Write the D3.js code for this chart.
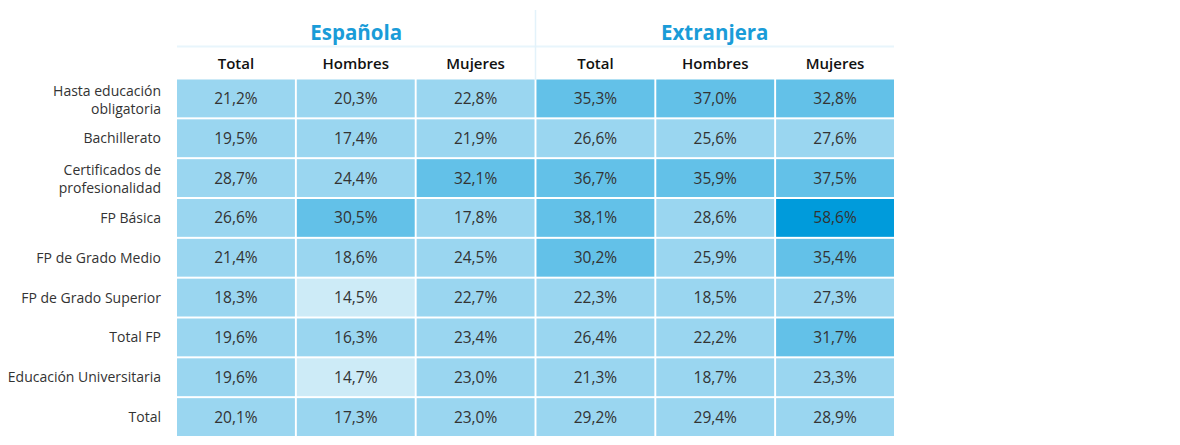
<!DOCTYPE html>
<html lang="es">
<head>
<meta charset="UTF-8">
<title>Tabla</title>
<script src="https://cdn.jsdelivr.net/npm/d3@7"></script>
<style>
  body { margin: 0; background: #fff; }
  text { font-family: "Open Sans", "Noto Sans", sans-serif; }
</style>
</head>
<body>
<script>
  const rows = ["Hasta educación obligatoria", "Bachillerato", "Certificados de profesionalidad",
    "FP Básica", "FP de Grado Medio", "FP de Grado Superior", "Total FP",
    "Educación Universitaria", "Total"];
  const groups = ["Española", "Extranjera"];
  const subCols = ["Total", "Hombres", "Mujeres"];

  // una fila por nivel: española (total, hombres, mujeres), extranjera (total, hombres, mujeres)
  const espanola = [
    [21.2, 20.3, 22.8], [19.5, 17.4, 21.9], [28.7, 24.4, 32.1], [26.6, 30.5, 17.8],
    [21.4, 18.6, 24.5], [18.3, 14.5, 22.7], [19.6, 16.3, 23.4], [19.6, 14.7, 23.0],
    [20.1, 17.3, 23.0]
  ];
  const extranjera = [
    [35.3, 37.0, 32.8], [26.6, 25.6, 27.6], [36.7, 35.9, 37.5], [38.1, 28.6, 58.6],
    [30.2, 25.9, 35.4], [22.3, 18.5, 27.3], [26.4, 22.2, 31.7], [21.3, 18.7, 23.3],
    [29.2, 29.4, 28.9]
  ];
  const thresholds = [15, 30, 50];
  const palette = ["#cdebf7", "#9ad6f0", "#63c1e8", "#009bdb"];

  const W = 1180, H = 445;
  const svg = d3.select("body").append("svg").attr("width", W).attr("height", H);

  const colKeys = [];
  groups.forEach(g => subCols.forEach(s => colKeys.push(g + "|" + s)));

  const x = d3.scaleBand().domain(colKeys).range([177, 894]).paddingInner(0.016);
  const y = d3.scaleBand().domain(rows).range([79.5, 436]).paddingInner(0.05);
  const xg = d3.scaleBand().domain(groups).range([177, 894]);
  const color = d3.scaleThreshold().domain(thresholds).range(palette);

  const cells = [];
  rows.forEach((r, i) => {
    subCols.forEach((s, j) => {
      cells.push({ row: r, col: "Española|" + s, v: espanola[i][j] });
      cells.push({ row: r, col: "Extranjera|" + s, v: extranjera[i][j] });
    });
  });

  // separadores de cabecera
  svg.append("line")
    .attr("x1", 177).attr("x2", 894).attr("y1", 46.5).attr("y2", 46.5)
    .attr("stroke", "#e8f5fc").attr("stroke-width", 2);
  svg.append("line")
    .attr("x1", xg("Extranjera")).attr("x2", xg("Extranjera"))
    .attr("y1", 10).attr("y2", 80)
    .attr("stroke", "#e3f2fa").attr("stroke-width", 1.5);

  svg.selectAll(".group").data(groups).enter().append("text")
    .attr("x", d => xg(d) + xg.bandwidth() / 2)
    .attr("y", 39.5)
    .attr("text-anchor", "middle")
    .attr("font-size", 20.5).attr("font-weight", "bold")
    .attr("fill", "#1a9cd8")
    .text(d => d);

  svg.selectAll(".sub").data(colKeys).enter().append("text")
    .attr("x", d => x(d) + x.bandwidth() / 2)
    .attr("y", 69)
    .attr("text-anchor", "middle")
    .attr("font-size", 15).attr("font-weight", 600)
    .attr("fill", "#111")
    .text(d => d.split("|")[1]);

  svg.selectAll(".cell").data(cells).enter().append("rect")
    .attr("x", d => x(d.col)).attr("y", d => y(d.row))
    .attr("width", x.bandwidth()).attr("height", y.bandwidth())
    .attr("fill", d => color(d.v));

  const fmt = v => v.toFixed(1).replace(".", ",") + "%";
  svg.selectAll(".val").data(cells).enter().append("text")
    .attr("x", d => x(d.col) + x.bandwidth() / 2)
    .attr("y", d => y(d.row) + y.bandwidth() / 2)
    .attr("dy", "0.36em")
    .attr("text-anchor", "middle")
    .attr("font-size", 15.5).attr("fill", "#333")
    .text(d => fmt(d.v));

  // etiquetas de fila, partidas en dos líneas si son largas
  const split = {
    "Hasta educación obligatoria": ["Hasta educación", "obligatoria"],
    "Certificados de profesionalidad": ["Certificados de", "profesionalidad"]
  };
  const lbl = svg.selectAll(".row").data(rows).enter().append("text")
    .attr("x", 161)
    .attr("y", d => y(d) + y.bandwidth() / 2)
    .attr("text-anchor", "end")
    .attr("font-size", 14).attr("fill", "#333");
  lbl.each(function (d) {
    const lines = split[d] || [d];
    const t = d3.select(this);
    lines.forEach((l, k) => {
      t.append("tspan").attr("x", 161)
        .attr("dy", k === 0 ? (lines.length === 1 ? "0.36em" : "-0.2em") : "1.28em")
        .text(l);
    });
  });
</script>
</body>
</html>
